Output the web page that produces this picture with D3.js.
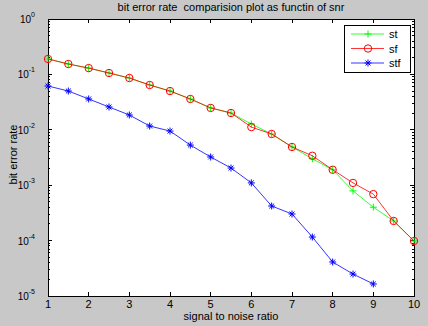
<!DOCTYPE html>
<html>
<head>
<meta charset="utf-8">
<script src="https://cdn.jsdelivr.net/npm/d3@7"></script>
<style>
  html, body { margin: 0; padding: 0; background: #c8c8c8; }
  svg { display: block; }
  text { font-family: 'Liberation Sans', Arial, sans-serif; fill: #000; white-space: pre; }
</style>
</head>
<body>
<div id="chart"></div>
<script>
const snr = [1, 1.5, 2, 2.5, 3, 3.5, 4, 4.5, 5, 5.5, 6, 6.5, 7, 7.5, 8, 8.5, 9, 9.5, 10];
const st  = [0.190, 0.154, 0.130, 0.106, 0.0861, 0.0644, 0.0501, 0.036, 0.0248, 0.0201,
             0.0127, 0.0084, 0.0049, 0.0030, 0.0019, 0.00079, 0.00040, 0.000226, 0.0000984];
const sf  = [0.190, 0.154, 0.130, 0.106, 0.0861, 0.0644, 0.0501, 0.036, 0.0248, 0.0201,
             0.0112, 0.0084, 0.0049, 0.0034, 0.0019, 0.0011, 0.00069, 0.000226, 0.0000984];
const stfX = [1, 1.5, 2, 2.5, 3, 3.5, 4, 4.5, 5, 5.5, 6, 6.5, 7, 7.5, 8, 8.5, 9];
const stf = [0.0617, 0.0501, 0.036, 0.0258, 0.0185, 0.0117, 0.0095, 0.0053, 0.00323, 0.00204,
             0.0011, 0.000421, 0.000302, 0.000116, 0.0000411, 0.0000249, 0.0000165];
const xTicks = [1, 2, 3, 4, 5, 6, 7, 8, 9, 10];
const yExps = [0, -1, -2, -3, -4, -5];

const totalW = 428, totalH = 326;
const margin = { top: 19, right: 14, bottom: 30, left: 48 };
const W = totalW - margin.left - margin.right;
const H = totalH - margin.top - margin.bottom;

const svg = d3.select('#chart').append('svg')
  .attr('width', totalW).attr('height', totalH);

const g = svg.append('g').attr('transform', `translate(${margin.left},${margin.top})`);

const x = d3.scaleLinear().domain([1, 10]).range([0, W]);
const y = d3.scaleLog().domain([1e-5, 1]).range([H, 0]);

g.append('rect').attr('width', W).attr('height', H).attr('fill', '#fff');

// ticks (inside, on all four sides)
const minor = [];
for (let e = -5; e < 0; e++) for (let k = 2; k <= 9; k++) minor.push(k * Math.pow(10, e));

const tk = g.append('g').attr('stroke', '#000').attr('stroke-width', 1).attr('shape-rendering', 'crispEdges');
xTicks.forEach(t => {
  tk.append('line').attr('x1', x(t)).attr('x2', x(t)).attr('y1', H).attr('y2', H - 4);
  tk.append('line').attr('x1', x(t)).attr('x2', x(t)).attr('y1', 0).attr('y2', 4);
});
yExps.forEach(e => {
  const v = y(Math.pow(10, e));
  tk.append('line').attr('x1', 0).attr('x2', 4).attr('y1', v).attr('y2', v);
  tk.append('line').attr('x1', W).attr('x2', W - 4).attr('y1', v).attr('y2', v);
});
minor.forEach(m => {
  const v = y(m);
  tk.append('line').attr('x1', 0).attr('x2', 2).attr('y1', v).attr('y2', v);
  tk.append('line').attr('x1', W).attr('x2', W - 2).attr('y1', v).attr('y2', v);
});

g.append('rect').attr('width', W).attr('height', H)
  .attr('fill', 'none').attr('stroke', '#000').attr('stroke-width', 1).attr('shape-rendering', 'crispEdges');

// tick labels
g.append('g').selectAll('text').data(xTicks).enter().append('text')
  .attr('x', d => x(d)).attr('y', H + 12)
  .attr('text-anchor', 'middle').attr('font-size', '11px')
  .text(d => d);

const yl = g.append('g').selectAll('text').data(yExps).enter().append('text')
  .attr('x', -13).attr('y', d => y(Math.pow(10, d)) + 4)
  .attr('text-anchor', 'end').attr('font-size', '10px');
yl.append('tspan').text('10');
yl.append('tspan').attr('font-size', '7px').attr('dy', -6).text(d => d);

// titles
svg.append('text').attr('x', margin.left + W / 2).attr('y', 11)
  .attr('text-anchor', 'middle').attr('font-size', '11px')
  .text('bit error rate  comparision plot as functin of snr');
svg.append('text').attr('x', margin.left + W / 2).attr('y', 320)
  .attr('text-anchor', 'middle').attr('font-size', '11px')
  .text('signal to noise ratio');
svg.append('text').attr('transform', `translate(17,${margin.top + H / 2 - 3}) rotate(-90)`)
  .attr('text-anchor', 'middle').attr('font-size', '11px')
  .text('bit error rate');

// lines
const line = d3.line().x(d => x(d[0])).y(d => y(d[1]));
const series = [
  { name: 'st',  xs: snr,  ys: st,  color: '#00ff00', marker: 'plus' },
  { name: 'sf',  xs: snr,  ys: sf,  color: '#ff0000', marker: 'circle' },
  { name: 'stf', xs: stfX, ys: stf, color: '#0000ff', marker: 'star' }
];

function drawMarker(sel, type, color, cx, cy) {
  if (type === 'plus') {
    sel.append('path').attr('d', `M${cx - 3.5},${cy}H${cx + 3.5}M${cx},${cy - 3.5}V${cy + 3.5}`)
      .attr('stroke', color).attr('stroke-width', 1).attr('fill', 'none');
  } else if (type === 'circle') {
    sel.append('circle').attr('cx', cx).attr('cy', cy).attr('r', 3.7)
      .attr('stroke', color).attr('stroke-width', 1).attr('fill', 'none');
  } else {
    const r = 3.5, d = r * 0.7;
    sel.append('path')
      .attr('d', `M${cx - r},${cy}H${cx + r}M${cx},${cy - r}V${cy + r}M${cx - d},${cy - d}L${cx + d},${cy + d}M${cx - d},${cy + d}L${cx + d},${cy - d}`)
      .attr('stroke', color).attr('stroke-width', 1).attr('fill', 'none');
  }
}

series.forEach(s => {
  const pts = s.xs.map((v, i) => [v, s.ys[i]]);
  g.append('path').datum(pts).attr('d', line)
    .attr('fill', 'none').attr('stroke', s.color).attr('stroke-width', 0.8);
  const mg = g.append('g');
  pts.forEach(p => drawMarker(mg, s.marker, s.color, x(p[0]), y(p[1])));
});

// legend
const lg = svg.append('g').attr('transform', 'translate(344,25)');
lg.append('rect').attr('width', 66).attr('height', 47)
  .attr('fill', '#fff').attr('stroke', '#000').attr('stroke-width', 1).attr('shape-rendering', 'crispEdges');
series.forEach((s, i) => {
  const ly = 9 + i * 14.5;
  lg.append('line').attr('x1', 7).attr('x2', 40).attr('y1', ly).attr('y2', ly)
    .attr('stroke', s.color).attr('stroke-width', 0.8);
  drawMarker(lg, s.marker, s.color, 24, ly);
  lg.append('text').attr('x', 45).attr('y', ly + 4).attr('font-size', '11px').text(s.name);
});
</script>
</body>
</html>
